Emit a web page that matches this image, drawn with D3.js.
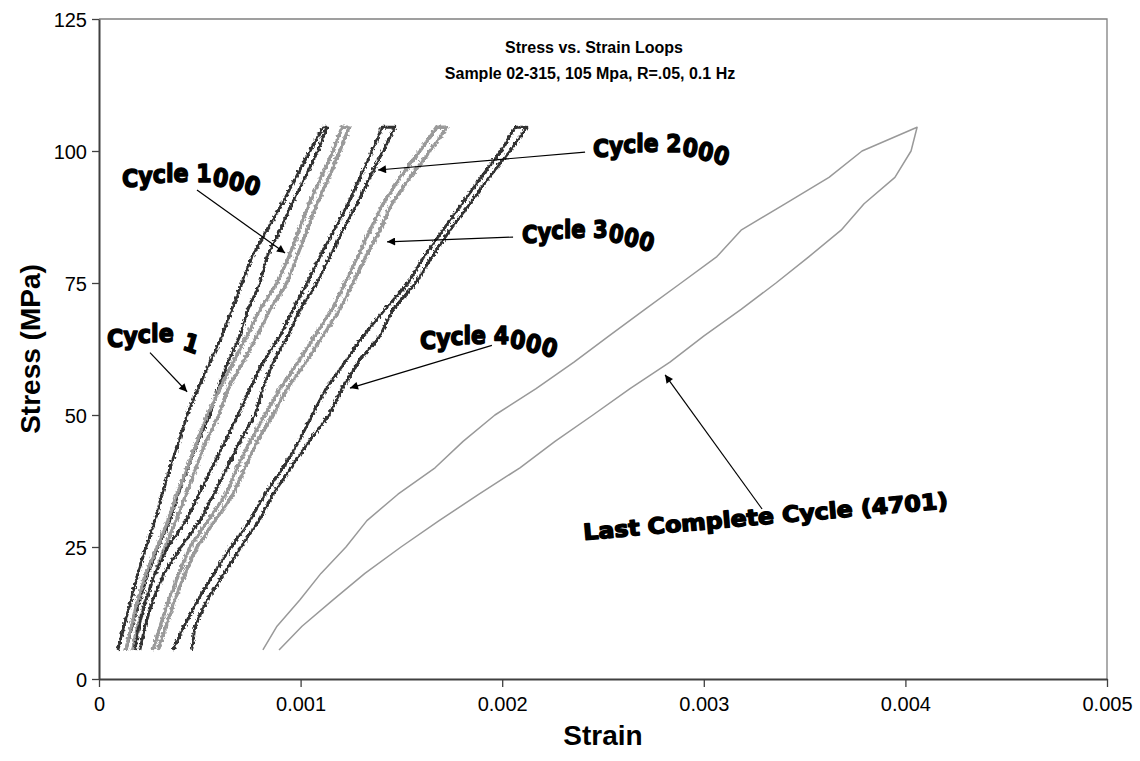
<!DOCTYPE html>
<html><head><meta charset="utf-8">
<script src="https://cdn.jsdelivr.net/npm/d3@7"></script>
<style>body{margin:0;background:#fff}svg{display:block}</style>
</head><body>
<script>
// ---------------- data ----------------
const stressLevels = [5.5, 10, 15, 20, 25, 30, 35, 40, 45, 50, 55, 60, 65, 70, 75, 80, 85, 90, 95, 100, 104.5];

const cycle1Left   = [0.000094,0.000124,0.000159,0.000193,0.000233,0.000278,0.000313,0.000352,0.000397,0.000437,0.000491,0.000551,0.000610,0.000660,0.000709,0.000759,0.000833,0.000908,0.000977,0.001047,0.001111];
const cycle1Right  = [0.000134,0.000164,0.000203,0.000243,0.000293,0.000352,0.000392,0.000441,0.000491,0.000551,0.000590,0.000640,0.000699,0.000739,0.000799,0.000833,0.000898,0.000957,0.001022,0.001086,0.001131];

const cycle1000Left  = [0.000134,0.000159,0.000193,0.000233,0.000288,0.000342,0.000387,0.000437,0.000486,0.000536,0.000600,0.000665,0.000734,0.000799,0.000883,0.000942,0.000992,0.001042,0.001101,0.001161,0.001205];
const cycle1000Right = [0.000164,0.000193,0.000233,0.000278,0.000327,0.000382,0.000432,0.000481,0.000531,0.000595,0.000640,0.000714,0.000784,0.000848,0.000933,0.000982,0.001032,0.001081,0.001141,0.001195,0.001240];

const cycle2000Left  = [0.000179,0.000198,0.000233,0.000278,0.000342,0.000432,0.000496,0.000561,0.000625,0.000689,0.000749,0.000813,0.000898,0.000962,0.001032,0.001096,0.001166,0.001235,0.001295,0.001354,0.001404];
const cycle2000Right = [0.000203,0.000228,0.000268,0.000322,0.000407,0.000501,0.000570,0.000635,0.000699,0.000774,0.000813,0.000863,0.000938,0.000997,0.001081,0.001146,0.001210,0.001280,0.001344,0.001409,0.001468];

const cycle3000Left  = [0.000268,0.000303,0.000347,0.000397,0.000451,0.000541,0.000630,0.000685,0.000749,0.000823,0.000898,0.000987,0.001071,0.001156,0.001220,0.001285,0.001344,0.001409,0.001493,0.001592,0.001677];
const cycle3000Right = [0.000293,0.000332,0.000377,0.000427,0.000486,0.000575,0.000665,0.000724,0.000784,0.000863,0.000933,0.001027,0.001111,0.001195,0.001260,0.001324,0.001394,0.001453,0.001543,0.001642,0.001726];

const cycle4000Left  = [0.000367,0.000422,0.000491,0.000570,0.000655,0.000749,0.000823,0.000913,0.000992,0.001057,0.001126,0.001220,0.001310,0.001419,0.001533,0.001612,0.001706,0.001801,0.001895,0.001994,0.002063];
const cycle4000Right = [0.000461,0.000476,0.000536,0.000620,0.000704,0.000794,0.000863,0.000952,0.001042,0.001141,0.001205,0.001285,0.001394,0.001458,0.001572,0.001652,0.001741,0.001840,0.001935,0.002039,0.002123];

const cycleLastLeft  = [0.000813,0.000883,0.000997,0.001101,0.001225,0.001329,0.001483,0.001667,0.001806,0.001964,0.002168,0.002356,0.002530,0.002708,0.002887,0.003065,0.003185,0.003403,0.003621,0.003785,0.004058];
const cycleLastRight = [0.000893,0.001007,0.001161,0.001319,0.001498,0.001687,0.001885,0.002088,0.002262,0.002450,0.002634,0.002832,0.003001,0.003185,0.003358,0.003522,0.003681,0.003795,0.003948,0.004028,0.004058];

const xTicks = [0, 0.001, 0.002, 0.003, 0.004, 0.005];
const xTickLabels = ["0", "0.001", "0.002", "0.003", "0.004", "0.005"];
const yTicks = [0, 25, 50, 75, 100, 125];
const yTickLabels = ["0", "25", "50", "75", "100", "125"];

const titleLines = ["Stress vs. Strain Loops", "Sample 02-315, 105 Mpa, R=.05, 0.1 Hz"];
const xTitle = "Strain";
const yTitle = "Stress (MPa)";

const labelTexts = ["Cycle 1", "Cycle 1000", "Cycle 2000", "Cycle 3000", "Cycle 4000", "Last Complete Cycle (4701)"];
// arrow: [strain, stress] of tail and head
const arrowTails = [[0.000253, 61.8], [0.000486, 92.6], [0.002411, 99.8], [0.002054, 83.7], [0.001949, 63.2], [0.003289, 32.2]];
const arrowHeads = [[0.000437, 54.4], [0.000923, 80.7], [0.001384, 96.4], [0.001429, 82.8], [0.001245, 55.1], [0.002808, 57.6]];

// ---------------- layout ----------------
const W = 1140, H = 761;
const L = 99, R = 1107, T = 19, B = 679;
const svg = d3.select("body").append("svg").attr("width", W).attr("height", H);

const x = d3.scaleLinear().domain([0, 0.005]).range([L, R]);
const y = d3.scaleLinear().domain([0, 125]).range([B, T]);

const defs = svg.append("defs");
const f = defs.append("filter").attr("id", "jit").attr("filterUnits", "userSpaceOnUse")
  .attr("x", 0).attr("y", 0).attr("width", W).attr("height", H);
f.append("feTurbulence").attr("type", "fractalNoise").attr("baseFrequency", "0.55 0.4").attr("numOctaves", 1).attr("seed", 11).attr("result", "n");
f.append("feDisplacementMap").attr("in", "SourceGraphic").attr("in2", "n").attr("scale", 6)
  .attr("xChannelSelector", "R").attr("yChannelSelector", "G");

defs.append("marker").attr("id", "ah").attr("viewBox", "0 0 10 10").attr("refX", 10).attr("refY", 5)
  .attr("markerWidth", 11).attr("markerHeight", 8).attr("markerUnits", "userSpaceOnUse").attr("orient", "auto")
  .append("path").attr("d", "M0,0 L10,5 L0,10 Z").attr("fill", "#000");

// frame (top/right)
svg.append("path").attr("d", `M${L},${T}H${R}V${B}`).attr("fill", "none").attr("stroke", "#808080").attr("stroke-width", 1.3);

// axes
const fontAx = "'Liberation Sans', Arial, sans-serif";
const xAxis = svg.append("g").attr("transform", `translate(0,${B})`)
  .call(d3.axisBottom(x).tickValues(xTicks).tickFormat((d, i) => xTickLabels[i]).tickSize(8).tickSizeOuter(0));
const yAxis = svg.append("g").attr("transform", `translate(${L},0)`)
  .call(d3.axisLeft(y).tickValues(yTicks).tickFormat((d, i) => yTickLabels[i]).tickSize(7).tickSizeOuter(0));
[xAxis, yAxis].forEach(a => {
  a.select(".domain").attr("stroke", "#404040").attr("stroke-width", 2);
  a.selectAll(".tick line").attr("stroke", "#404040").attr("stroke-width", 1.3);
  a.selectAll(".tick text").attr("font-family", fontAx).attr("font-size", 20).attr("fill", "#000");
});
xAxis.selectAll(".tick text").attr("dy", "1.05em");
yAxis.selectAll(".tick text").attr("x", -12).attr("dy", "0.35em");

svg.append("text").attr("x", (L + R) / 2).attr("y", 745).attr("text-anchor", "middle")
  .attr("font-family", fontAx).attr("font-weight", "bold").attr("font-size", 28).text(xTitle);
svg.append("text").attr("transform", `translate(40,${(T + B) / 2}) rotate(-90)`).attr("text-anchor", "middle")
  .attr("font-family", fontAx).attr("font-weight", "bold").attr("font-size", 28).text(yTitle);

// title
svg.append("text").attr("x", 594).attr("y", 53).attr("text-anchor", "middle")
  .attr("font-family", fontAx).attr("font-weight", "bold").attr("font-size", 16).text(titleLines[0]);
svg.append("text").attr("x", 590).attr("y", 79).attr("text-anchor", "middle")
  .attr("font-family", fontAx).attr("font-weight", "bold").attr("font-size", 16).text(titleLines[1]);

// loops
const line = d3.line().x(d => x(d[0])).y(d => y(d[1]));
function loopPts(left, right) {
  const a = left.map((v, i) => [v, stressLevels[i]]);
  const b = right.map((v, i) => [v, stressLevels[i]]).reverse();
  return a.concat(b);
}
const loops = [
  {l: cycle1Left, r: cycle1Right, c: "#333333", jit: true, w: 1.4},
  {l: cycle1000Left, r: cycle1000Right, c: "#9a9a9a", jit: true, w: 2.0},
  {l: cycle2000Left, r: cycle2000Right, c: "#333333", jit: true, w: 1.4},
  {l: cycle3000Left, r: cycle3000Right, c: "#9a9a9a", jit: true, w: 2.0},
  {l: cycle4000Left, r: cycle4000Right, c: "#333333", jit: true, w: 1.4},
  {l: cycleLastLeft, r: cycleLastRight, c: "#999999", jit: false, w: 1.5}
];
const gl = svg.append("g");
loops.forEach(o => {
  const d = line(loopPts(o.l, o.r));
  gl.append("path").attr("d", d).attr("fill", "none")
    .attr("stroke", o.c).attr("stroke-width", o.w).attr("stroke-linejoin", "round");
  if (o.jit) {
    gl.append("path").attr("d", d).attr("fill", "none")
      .attr("stroke", o.c).attr("stroke-width", o.w + 1.4).attr("stroke-linejoin", "round")
      .attr("filter", "url(#jit)");
  }
});

// arrows
arrowTails.forEach((t, i) => {
  const h = arrowHeads[i];
  svg.append("line").attr("x1", x(t[0])).attr("y1", y(t[1])).attr("x2", x(h[0])).attr("y2", y(h[1]))
    .attr("stroke", "#000").attr("stroke-width", 1.2).attr("marker-end", "url(#ah)");
});

// word-art labels (single text elements, per-glyph shifts and rotations)
const labelFont = "'DejaVu Sans', sans-serif";
const cycOff = [2, 0, -2, -3, -3, 0, -3, 0, 3, 6];
const cycRot = [0, 0, 0, 0, 0, 0, 0, 10, 15, 20];
const labelSpecs = [
  {x: 107, y: 345, len: 90,  size: 25, off: [2, 0, -2, -3, -3, 0, 4], rot: [0, 0, 0, 0, 0, 0, 18], ang: 0},
  {x: 122, y: 185, len: 136, size: 25, off: cycOff, rot: cycRot, ang: 0},
  {x: 593, y: 155, len: 134, size: 25, off: cycOff, rot: cycRot, ang: 0},
  {x: 522, y: 241, len: 130, size: 25, off: cycOff, rot: cycRot, ang: 0},
  {x: 420, y: 347, len: 135, size: 25, off: cycOff, rot: cycRot, ang: 0},
  {x: 584, y: 540, len: 366, size: 22, off: null, rot: null, ang: -5}
];
labelTexts.forEach((txt, i) => {
  const s = labelSpecs[i];
  const t = svg.append("text").attr("transform", `translate(${s.x},${s.y}) rotate(${s.ang})`)
    .attr("font-family", labelFont).attr("font-weight", "bold").attr("font-size", s.size)
    .attr("fill", "#000").attr("stroke", "#000").attr("stroke-width", 1.5).attr("stroke-linejoin", "round")
    .attr("textLength", s.len).attr("lengthAdjust", "spacingAndGlyphs");
  if (s.off) {
    const dys = s.off.map((o, k) => o - (k ? s.off[k - 1] : 0));
    t.attr("dy", dys.join(" ")).attr("rotate", s.rot.join(" "));
  }
  t.text(txt);
});
</script>
</body></html>
